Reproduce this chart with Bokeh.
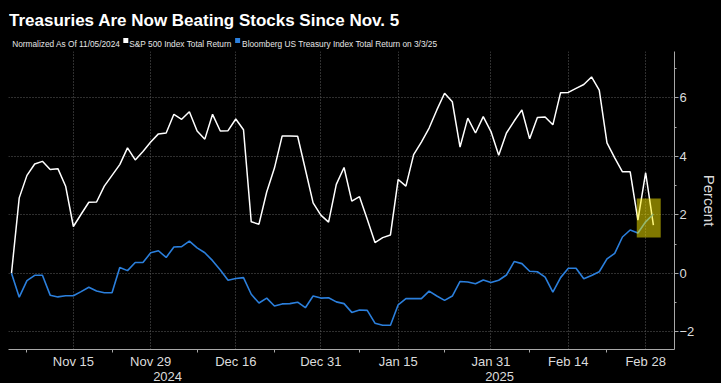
import pandas as pd
from bokeh.plotting import figure
from bokeh.layouts import column
from bokeh.models import ColumnDataSource, FixedTicker, Range1d, BoxAnnotation, LinearAxis
from bokeh.core.properties import value
from bokeh.embed import file_html
from bokeh.resources import INLINE

# ---------------- data ----------------
TITLE = "Treasuries Are Now Beating Stocks Since Nov. 5"
SUBTITLE = "Normalized As Of 11/05/2024"
SERIES_NAMES = ["S&P 500 Index Total Return",
                "Bloomberg US Treasury Index Total Return on 3/3/25"]
SERIES_COLORS = ["#ffffff", "#2b7fdc"]

# weekday calendar used by the chart (New Year's Day absent)
dates = [d.strftime("%Y-%m-%d") for d in pd.bdate_range("2024-11-05", "2025-03-03")
         if d.strftime("%Y-%m-%d") != "2025-01-01"]

sp500 = [0.00, 2.58, 3.35, 3.74, 3.83, 3.55, 3.58, 2.98, 1.60, 2.02,
         2.43, 2.44, 2.98, 3.35, 3.72, 4.29, 3.88, 4.17, 4.49, 4.77,
         4.80, 5.44, 5.27, 5.53, 4.87, 4.59, 5.44, 4.87, 4.88, 5.28,
         4.91, 1.76, 1.68, 2.78, 3.60, 4.70, 4.70, 4.69, 3.55, 2.41,
         1.99, 1.75, 3.04, 3.62, 2.47, 2.62, 1.85, 1.05, 1.22, 1.31,
         3.21, 2.98, 4.06, 4.49, 4.97, 5.59, 6.16, 5.87, 4.32, 5.31,
         4.80, 5.36, 4.85, 4.04, 4.80, 5.21, 5.59, 4.60, 5.33, 5.35,
         5.08, 6.18, 6.19, 6.33, 6.46, 6.72, 6.27, 4.46, 3.95, 3.47,
         3.47, 1.82, 3.44, 1.65]

treasury = [0.00, -0.82, -0.25, -0.07, -0.07, -0.75, -0.81, -0.77, -0.77, -0.63,
            -0.48, -0.61, -0.67, -0.67, 0.20, 0.09, 0.37, 0.37, 0.70, 0.77,
            0.54, 0.90, 0.91, 1.10, 0.87, 0.70, 0.43, 0.11, -0.24, -0.18,
            -0.15, -0.72, -1.02, -0.85, -1.12, -1.05, -1.04, -0.99, -1.18, -0.78,
            -0.85, -0.84, -0.98, -1.04, -1.34, -1.26, -1.27, -1.71, -1.78, -1.78,
            -1.08, -0.87, -0.87, -0.87, -0.61, -0.78, -0.93, -0.78, -0.28, -0.30,
            -0.36, -0.23, -0.32, -0.24, -0.06, 0.40, 0.33, 0.07, 0.05, -0.13,
            -0.65, -0.15, 0.17, 0.17, -0.19, -0.08, 0.05, 0.49, 0.68, 1.24,
            1.48, 1.38, 1.76, 2.03]

tick_dates = ["2024-11-15", "2024-11-29", "2024-12-16", "2024-12-31",
              "2025-01-15", "2025-01-31", "2025-02-14", "2025-02-28"]
tick_labels = ["Nov 15", "Nov 29", "Dec 16", "Dec 31",
               "Jan 15", "Jan 31", "Feb 14", "Feb 28"]
minor_tick_dates = ["2024-11-07", "2024-11-22", "2024-12-09", "2024-12-23",
                    "2025-01-08", "2025-01-23", "2025-02-07", "2025-02-21"]
years = ["2024", "2025"]
y_ticks = [-2, 0, 2, 4, 6]
y_minor_ticks = [-1, 1, 3, 5, 7]
Y_RANGE = (-2.61, 7.59)
X_PAD = (-0.387, 2.73)
# highlighted area (index units / percent)
HIGHLIGHT = dict(left=80.85, right=83.95, bottom=1.22, top=2.56)

# ---------------- build ----------------
idx = list(range(len(dates)))
src = ColumnDataSource(dict(i=idx, date=dates, sp=sp500, tr=treasury))
pos = {d: k for k, d in enumerate(dates)}
major = [pos[d] for d in tick_dates]
minor = [pos[d] for d in minor_tick_dates]
x0, x1 = X_PAD[0], len(dates) - 1 + X_PAD[1]
year_split = pos["2024-12-31"] + 0.5
year_pos = [(-0.13 + year_split) / 2, (year_split + x1) / 2]

BG = "#000000"
AXIS = "#a8a8a8"
TXT = "#dcdcdc"
FONT = "Liberation Sans"

W = 721
HH = 51
LB, RB = 8, 43          # left / right borders shared by both stacked figures
# header (its frame is aligned with the chart frame: page x 8..678)
h = figure(width=W, height=HH, x_range=Range1d(LB, W - RB), y_range=Range1d(0, HH),
           output_backend="svg", toolbar_location=None,
           min_border=0, min_border_left=LB, min_border_right=RB,
           min_border_top=0, min_border_bottom=0,
           x_axis_location=None, y_axis_location=None,
           background_fill_color=BG, border_fill_color=BG)
h.outline_line_color = None
h.grid.visible = False
DY = 2.4
h.text(x=[8.5], y=[HH - 22.7 + DY], text=[TITLE], text_color="#ffffff",
       text_font=value(FONT), text_font_style="bold", text_font_size="17px",
       text_baseline="alphabetic")
h.text(x=[11.7, 129.5, 243], y=[HH - 45.7 + DY] * 3, text=[SUBTITLE] + SERIES_NAMES,
       text_color="#e6e6e6", text_font=value(FONT), text_font_size="8.3px",
       text_baseline="alphabetic")
h.scatter(x=[126, 238.5], y=[HH - 42.4 + DY] * 2, marker="square", size=5,
          fill_color=SERIES_COLORS, line_color=None)

# main chart
p = figure(width=W, height=383 - HH, output_backend="svg", toolbar_location=None,
           x_range=Range1d(x0, x1), y_range=Range1d(*Y_RANGE),
           y_axis_location="right",
           background_fill_color=BG, border_fill_color=BG,
           min_border_left=LB, min_border_right=RB, min_border_top=0,
           min_border_bottom=32)
p.outline_line_color = None

p.line(x="i", y="sp", source=src, line_color=SERIES_COLORS[0], line_width=1.5)
p.line(x="i", y="tr", source=src, line_color=SERIES_COLORS[1], line_width=1.6)

p.add_layout(BoxAnnotation(left=HIGHLIGHT["left"], right=HIGHLIGHT["right"],
                           bottom=HIGHLIGHT["bottom"], top=HIGHLIGHT["top"],
                           fill_color="#fff000", fill_alpha=0.5, line_color=None))

xa = p.xaxis[0]
xa.ticker = FixedTicker(ticks=major, minor_ticks=minor)
xa.major_label_overrides = {m: lab for m, lab in zip(major, tick_labels)}
xa.axis_line_color = AXIS
xa.major_tick_line_color = None
xa.major_tick_in = 0
xa.major_tick_out = 0
xa.minor_tick_line_color = AXIS
xa.minor_tick_in = 0
xa.minor_tick_out = 3
xa.major_label_standoff = 1
xa.major_label_text_color = TXT
xa.major_label_text_font = FONT
xa.major_label_text_font_size = "13px"

ax_year = LinearAxis(ticker=FixedTicker(ticks=year_pos, minor_ticks=[]),
                     major_label_overrides={yp: yl for yp, yl in zip(year_pos, years)},
                     axis_line_color=None, major_tick_line_color=None,
                     minor_tick_line_color=None, major_tick_in=0, major_tick_out=0,
                     major_label_standoff=0, major_label_text_color=TXT,
                     major_label_text_font=FONT, major_label_text_font_size="13px")
p.add_layout(ax_year, "below")

ya = p.yaxis[0]
ya.ticker = FixedTicker(ticks=y_ticks, minor_ticks=y_minor_ticks)
ya.axis_line_color = AXIS
ya.major_tick_line_color = AXIS
ya.minor_tick_line_color = AXIS
ya.major_tick_in = 0
ya.major_tick_out = 4
ya.minor_tick_in = 0
ya.minor_tick_out = 2
ya.major_label_standoff = 1
ya.major_label_text_color = TXT
ya.major_label_text_font = FONT
ya.major_label_text_font_size = "13px"
ya.axis_label = "Percent"
ya.axis_label_standoff = 4
ya.axis_label_text_color = TXT
ya.axis_label_text_font = FONT
ya.axis_label_text_font_size = "15px"
ya.axis_label_text_font_style = "normal"

p.xgrid.ticker = FixedTicker(ticks=major)
p.ygrid.ticker = FixedTicker(ticks=y_ticks)
p.grid.grid_line_color = "#5e5e5e"
p.grid.grid_line_dash = "1 2"
p.grid.grid_line_width = 1

layout = column(h, p, spacing=0, styles={"background-color": BG})
html = file_html(layout, INLINE, title="Treasuries vs Stocks")
html = html.replace("<body>", '<body style="background-color:#000000;">', 1)
open("out.html", "w").write(html)
